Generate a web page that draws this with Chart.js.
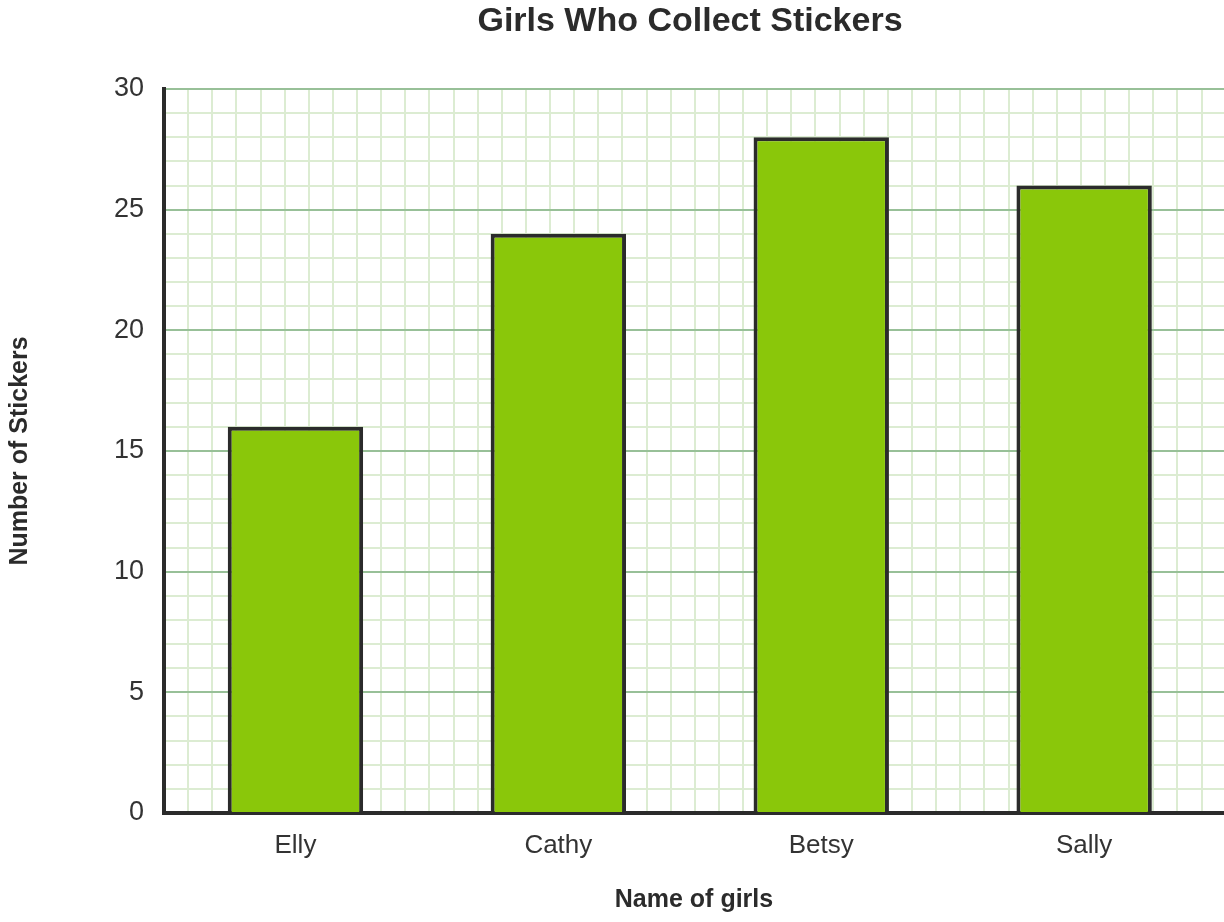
<!DOCTYPE html>
<html>
<head>
<meta charset="utf-8">
<script src="https://cdn.jsdelivr.net/npm/chart.js@4/dist/chart.umd.min.js"></script>
<style>
html,body{margin:0;padding:0;background:#fff;}
#wrap{width:1224px;height:922px;position:relative;}
</style>
</head>
<body>
<div id="wrap"><canvas id="c" width="1224" height="922"></canvas></div>
<script>
const chartTitle = "Girls Who Collect Stickers";
const categories = ["Elly", "Cathy", "Betsy", "Sally"];
const stickers = [16, 24, 28, 26];
const yTickLabels = [0, 5, 10, 15, 20, 25, 30];
const xAxisTitle = "Name of girls";
const yAxisTitle = "Number of Stickers";

const FONT = "'Liberation Sans', Arial, sans-serif";
const DARK = "#2b2b2b";
const MAJOR = "#98c098";
const MINOR = "#dcecd2";

const titlePlugin = {
  id: "centeredTitle",
  afterDraw(chart) {
    const ctx = chart.ctx;
    const a = chart.chartArea;
    ctx.save();
    ctx.font = "bold 34px " + FONT;
    ctx.fillStyle = DARK;
    ctx.textAlign = "center";
    ctx.textBaseline = "middle";
    ctx.fillText(chartTitle, (a.left + a.right) / 2 - 4, 22);
    ctx.restore();
  }
};

new Chart(document.getElementById("c"), {
  type: "bar",
  data: {
    datasets: [{
      data: stickers.map((v, i) => ({ x: i, y: v })),
      backgroundColor: "#8ac70a",
      borderColor: DARK,
      borderWidth: 4,
      borderSkipped: "start",
      barPercentage: 0.515,
      categoryPercentage: 1,
      xAxisID: "x",
      yAxisID: "y"
    }]
  },
  options: {
    responsive: false,
    animation: false,
    layout: { padding: 0 },
    plugins: { legend: { display: false }, tooltip: { enabled: false }, title: { display: false } },
    scales: {
      x: {
        type: "linear",
        position: "bottom",
        offset: false,
        min: -0.5,
        max: 3.532,
        afterBuildTicks: s => { s.ticks = categories.map((c, i) => ({ value: i })); },
        afterFit: s => { s.height = 109; },
        grid: { display: false, drawTicks: false, offset: false },
        border: { display: true, color: DARK, width: 4 },
        ticks: {
          padding: 17,
          color: "#333",
          font: { family: FONT, size: 26 },
          callback: v => categories[v],
          maxRotation: 0,
          autoSkip: false
        },
        title: {
          display: true,
          text: xAxisTitle,
          color: DARK,
          font: { family: FONT, size: 25, weight: "bold" },
          padding: { top: 0, bottom: 7 }
        }
      },
      xg: {
        type: "linear",
        position: "top",
        offset: false,
        min: 0,
        max: 43.93,
        z: -1,
        afterFit: s => { s.height = 89; },
        grid: { display: true, drawTicks: false, color: MINOR, lineWidth: 2, offset: false },
        border: { display: false },
        ticks: { display: false, stepSize: 1, includeBounds: false }
      },
      y: {
        type: "linear",
        position: "left",
        min: 0,
        max: 30,
        afterFit: s => { s.width = 164; },
        grid: {
          drawTicks: false,
          color: c => (c.tick && c.tick.value % 5 === 0) ? MAJOR : MINOR,
          lineWidth: 2
        },
        border: { display: true, color: DARK, width: 4 },
        ticks: {
          stepSize: 1,
          padding: 20,
          color: "#333",
          font: { family: FONT, size: 27 },
          autoSkip: false,
          callback: v => yTickLabels.includes(v) ? String(v) : ""
        },
        title: {
          display: true,
          text: yAxisTitle,
          color: DARK,
          font: { family: FONT, size: 25, weight: "bold" },
          padding: { top: 5, bottom: 0 }
        }
      }
    }
  },
  plugins: [titlePlugin]
});
</script>
</body>
</html>
